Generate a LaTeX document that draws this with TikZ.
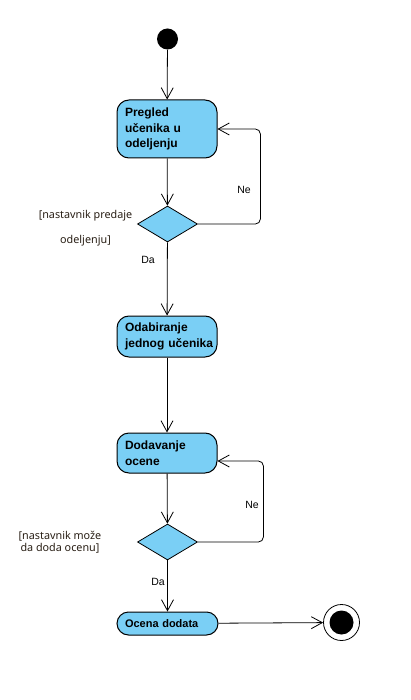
\documentclass[tikz,border=0pt]{standalone}
\usepackage{fontspec}
\setmainfont{Liberation Sans}
\newfontfamily\guardfont{Noto Sans}
\usetikzlibrary{arrows.meta,shapes.geometric}
\definecolor{actfill}{RGB}{122,207,245}
\definecolor{guardcol}{RGB}{40,30,20}
\tikzset{
  act/.style={draw=black, line width=1pt, fill=actfill, rounded corners=12pt,
    minimum width=100pt, text width=84pt, inner xsep=8pt, align=left,
    font=\fontsize{12}{15.5}\selectfont\bfseries},
  actsmall/.style={draw=black, line width=1pt, fill=actfill, rounded corners=11.5pt,
    minimum width=101pt, minimum height=23pt, text width=85pt, inner xsep=8pt, align=left,
    font=\fontsize{11}{13}\selectfont\bfseries},
  dec/.style={draw=black, line width=0.8pt, fill=actfill, diamond,
    minimum width=60pt, minimum height=36pt, inner sep=0pt},
  flow/.style={draw=black, line width=0.8pt, -{Straight Barb[length=11pt,width=12pt]}},
  lbl/.style={font=\fontsize{10.5}{12}\selectfont, inner sep=0pt},
  guard/.style={font=\guardfont\fontsize{10.8}{12}\selectfont, text=guardcol, align=center, inner sep=0pt},
}
\begin{document}
\begin{tikzpicture}[x=1pt,y=-1pt]
\useasboundingbox (0,0) rectangle (410,700);
\node[circle, fill=black, minimum size=21pt, inner sep=0pt] (start) at (167.5,39) {};
\node[act, minimum height=58pt] (b1) at (167,129) {Pregled\\u\v{c}enika u\\odeljenju};
\node[dec] (d1) at (167.5,224) {};
\node[act, minimum height=41pt] (b2) at (167,336.5) {Odabiranje\\jednog~u\v{c}enika};
\node[act, minimum height=40pt] (b3) at (167,453) {Dodavanje\\ocene};
\node[dec] (d2) at (167.5,542) {};
\node[actsmall] (b4) at (167.5,623.5) {Ocena dodata};
\node[circle, draw=black, line width=0.8pt, fill=white, minimum size=36pt, inner sep=0pt] (end) at (341.5,622.5) {};
\node[circle, fill=black, minimum size=24pt, inner sep=0pt] (endin) at (341.5,622.5) {};

\draw[flow] (start) -- (b1);
\draw[flow] (b1) -- (d1);
\draw[flow] (d1) -- (b2);
\draw[flow] (b2) -- (b3);
\draw[flow] (b3) -- (d2);
\draw[flow] (d2) -- (b4);
\draw[flow] (b4) -- (end);
\draw[flow, rounded corners=5pt] (d1.east) -- ++(62.5,0) |- (b1.east);
\draw[flow, rounded corners=5pt] (d2.east) -- ++(65.5,0) |- ([yshift=-8pt]b3.east);

\node[lbl] (ne1) at (244,190) {Ne};
\node[lbl] (da1) at (148,260) {Da};
\node[lbl] (ne2) at (252,505) {Ne};
\node[lbl] (da2) at (158,582) {Da};
\node[guard] (g1a) at (85.5,216) {[nastavnik predaje};
\node[guard] (g1b) at (85.5,241) {odeljenju]};
\node[guard] (g2) at (60,542.5) {[nastavnik mo\v{z}e\\da doda ocenu]};
\end{tikzpicture}
\end{document}
